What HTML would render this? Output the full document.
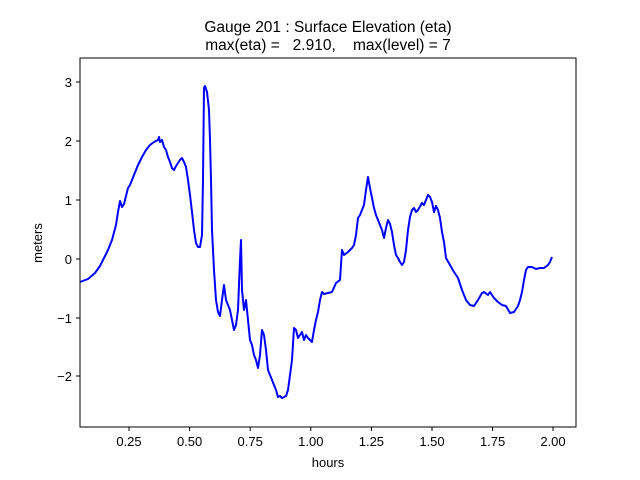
<!DOCTYPE html>
<html><head><meta charset="utf-8"><style>
html,body{margin:0;padding:0;background:#fff;}
svg{display:block;font-family:"Liberation Sans","DejaVu Sans",sans-serif;}
</style></head><body>
<svg width="640" height="480" viewBox="0 0 640 480" xmlns="http://www.w3.org/2000/svg">
<rect width="640" height="480" fill="#fff"/>
<text x="328" y="32" font-size="15.5" text-anchor="middle">Gauge 201 : Surface Elevation (eta)</text>
<text x="328" y="50" font-size="15.5" text-anchor="middle" xml:space="preserve">max(eta) =   2.910,    max(level) = 7</text>
<polyline fill="none" stroke="#0000ff" stroke-width="2" stroke-linejoin="round" points="80,282 88,279 95,273 100,266 104,258 108,250 112,240 116,225 118,212 120,201 122,207 124,204 126,196 128,188 130,185 134,175 138,165 142,157 146,150 150,145 154,142 158,140 159,137 160,142 162,140 164,147 166,150 168,157 170,162 172,168 174,170 176,166 178,163 180,160 182,158 184,162 186,167 188,180 190,195 192,212 194,230 196,243 198,247 200,247 202,235 203,180 204,88 205,86 207,92 209,110 210,140 211,180 212,230 214,270 216,300 218,312 220,316 222,300 224,285 226,300 228,305 230,310 232,320 234,330 236,325 238,310 240,260 241,240 242,290 244,310 246,300 248,320 250,340 252,345 254,355 256,360 258,368 260,355 262,330 264,335 266,350 268,370 270,375 272,380 274,385 276,390 278,397 280,396 282,398 286,396 288,390 290,375 292,360 294,328 296,330 298,338 300,335 302,332 304,340 306,335 308,338 310,340 312,342 314,330 316,320 318,312 320,300 322,292 324,294 328,293 332,292 336,283 340,280 342,250 344,255 348,252 352,248 354,245 356,235 358,218 360,215 362,210 364,205 366,190 368,177 370,188 372,198 374,208 376,215 378,220 380,225 382,230 384,238 386,228 388,220 390,224 392,232 394,245 396,255 398,258 400,262 402,265 404,262 406,250 408,230 410,217 412,210 414,208 416,212 418,210 422,203 424,205 426,200 428,195 430,197 432,202 434,212 436,206 438,210 440,218 442,232 444,242 446,258 450,265 454,272 458,278 462,290 466,300 470,305 474,306 478,300 482,293 484,292 488,295 490,292 494,298 498,302 502,305 506,306 510,313 514,312 518,306 520,300 522,292 524,280 526,270 528,267 532,267 536,269 540,268 544,268 548,265 550,262 552,257"/>
<rect x="80" y="58" width="496" height="369" fill="none" stroke="#000" stroke-width="1"/>
<g stroke="#000" stroke-width="1">
<line x1="129" y1="427" x2="129" y2="431"/><line x1="189.6" y1="427" x2="189.6" y2="431"/><line x1="250.2" y1="427" x2="250.2" y2="431"/><line x1="310.8" y1="427" x2="310.8" y2="431"/><line x1="371.4" y1="427" x2="371.4" y2="431"/><line x1="432" y1="427" x2="432" y2="431"/><line x1="492.6" y1="427" x2="492.6" y2="431"/><line x1="553" y1="427" x2="553" y2="431"/>
<line x1="76" y1="82" x2="80" y2="82"/><line x1="76" y1="141" x2="80" y2="141"/><line x1="76" y1="200" x2="80" y2="200"/><line x1="76" y1="259" x2="80" y2="259"/><line x1="76" y1="318" x2="80" y2="318"/><line x1="76" y1="376" x2="80" y2="376"/>
</g>
<g font-size="13" text-anchor="middle">
<text x="129" y="446">0.25</text><text x="189.6" y="446">0.50</text><text x="250.2" y="446">0.75</text><text x="310.8" y="446">1.00</text><text x="371.4" y="446">1.25</text><text x="432" y="446">1.50</text><text x="492.6" y="446">1.75</text><text x="553" y="446">2.00</text>
<text x="328" y="467">hours</text>
</g>
<g font-size="13" text-anchor="end">
<text x="72" y="87">3</text><text x="72" y="146">2</text><text x="72" y="205">1</text><text x="72" y="264">0</text><text x="72" y="323">−1</text><text x="72" y="381">−2</text>
</g>
<text x="42" y="243" font-size="13" text-anchor="middle" transform="rotate(-90 42 243)">meters</text>
</svg>
</body></html>
